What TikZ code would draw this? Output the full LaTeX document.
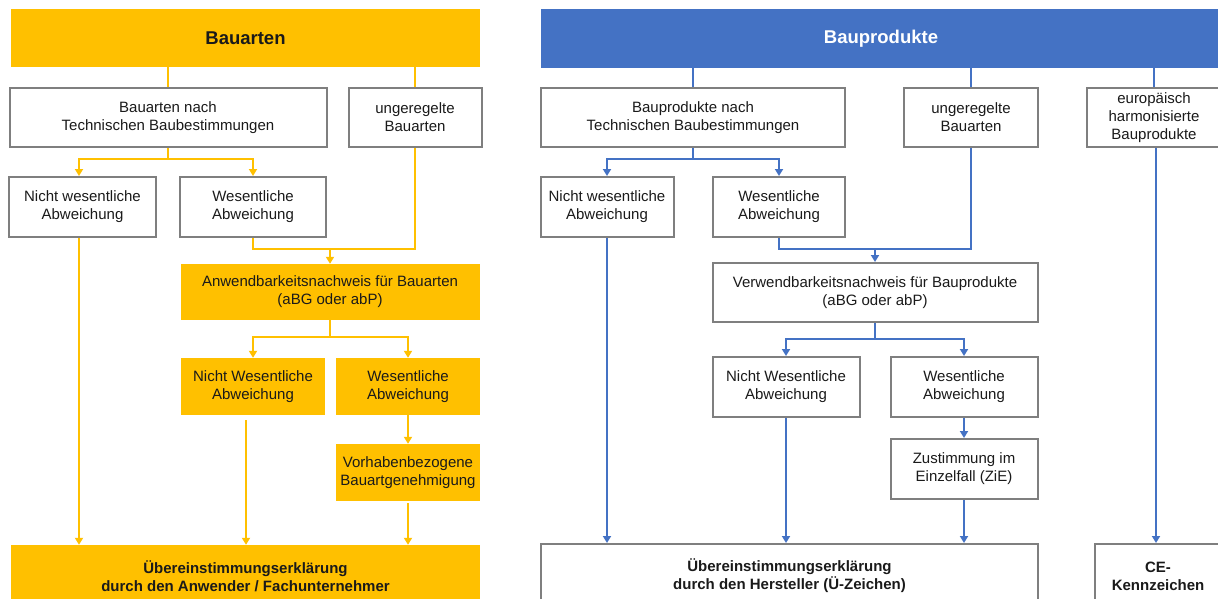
\documentclass[tikz,border=0pt]{standalone}
\usepackage{fontspec}
\setmainfont{Liberation Sans}
\usetikzlibrary{arrows.meta}
\definecolor{gold}{HTML}{FFC000}
\definecolor{bblue}{HTML}{4472C4}
\definecolor{bgray}{HTML}{7F7F7F}
\definecolor{txt}{HTML}{1A1A1A}
\begin{document}
\begin{tikzpicture}[x=1pt,y=-1pt,
  base/.style={align=center, inner sep=0pt, text=txt, font=\fontsize{15}{18}\selectfont},
  box/.style={base, draw=bgray, line width=2pt, fill=white},
  ybox/.style={base, fill=gold},
  bbox/.style={base, draw=bgray, line width=2pt, fill=white, font=\fontsize{15}{18}\selectfont\bfseries},
  yl/.style={draw=gold, line width=2pt},
  bl/.style={draw=bblue, line width=2pt},
  yarr/.style={yl, -{Triangle[width=8pt,length=7pt]}},
  barr/.style={bl, -{Triangle[width=8pt,length=7pt]}},
]
\useasboundingbox (0,0) rectangle (1218,598);
\fill[white] (0,0) rectangle (1218,598);
\clip (0,0) rectangle (1218,598);

% ---------------- left: Bauarten ----------------
\node[ybox, minimum width=469, minimum height=58, font=\fontsize{18.5}{22}\selectfont\bfseries] (hA) at (245.5,38) {Bauarten};
\node[box, minimum width=317, minimum height=59] (a1) at (168,117.5) {Bauarten nach\\Technischen Baubestimmungen};
\node[box, minimum width=133, minimum height=59] (a2) at (415,117.5) {ungeregelte\\Bauarten};
\node[box, minimum width=147, minimum height=60] (a3) at (82.5,207) {Nicht wesentliche\\Abweichung};
\node[box, minimum width=146, minimum height=60] (a4) at (253,207) {Wesentliche\\Abweichung};
\node[ybox, minimum width=299, minimum height=56] (a5) at (330,292) {Anwendbarkeitsnachweis für Bauarten\\(aBG oder abP)};
\node[ybox, minimum width=144, minimum height=57] (a6) at (253,386.5) {Nicht Wesentliche\\Abweichung};
\node[ybox, minimum width=144, minimum height=57] (a7) at (408,386.5) {Wesentliche\\Abweichung};
\node[ybox, minimum width=144, minimum height=57] (a8) at (408,472.5) {Vorhabenbezogene\\Bauartgenehmigung};
\node[ybox, minimum width=469, minimum height=62, font=\fontsize{15}{18}\selectfont\bfseries] (a9) at (245.5,576) {Übereinstimmungserklärung\\durch den Anwender / Fachunternehmer};

\coordinate (L1) at (0,159);
\coordinate (L2) at (0,249);
\coordinate (L3) at (0,337);
\coordinate (R3) at (0,339);

\draw[yl] (hA.south -| a1.north) -- (a1.north);
\draw[yl] (hA.south -| a2.north) -- (a2.north);
\draw[yl] (a1.south) -- (a1.south |- L1);
\coordinate (a3in) at ([xshift=-3.5pt]a3.north);
\coordinate (a3out) at ([xshift=-3.5pt]a3.south);
\draw[yarr] (a1.south |- L1) -| (a3in);
\draw[yarr] (a1.south |- L1) -| (a4.north);
\draw[yl] (a4.south) |- (a2.south |- L2) -- (a2.south);
\draw[yarr] (a5.north |- L2) -- (a5.north);
\draw[yl] (a5.south) -- (a5.south |- L3);
\draw[yarr] (a5.south |- L3) -| (a6.north);
\draw[yarr] (a5.south |- L3) -| (a7.north);
\draw[yarr] (a7.south) -- (a8.north);
\draw[yarr, shorten <=2pt] (a8.south) -- (a8.south |- a9.north);
\coordinate (a6out) at ([xshift=-7pt]a6.south);
\draw[yarr, shorten <=5pt] (a6out) -- (a6out |- a9.north);
\draw[yarr] (a3out) -- (a3out |- a9.north);

% ---------------- right: Bauprodukte ----------------
\node[fill=bblue, minimum width=680, minimum height=59, inner sep=0pt, text=white, font=\fontsize{18.5}{22}\selectfont\bfseries] (hB) at (881,38.5) {Bauprodukte};
\node[box, minimum width=304, minimum height=59] (b1) at (693,117.5) {Bauprodukte nach\\Technischen Baubestimmungen};
\node[box, minimum width=134, minimum height=59] (b2) at (971,117.5) {ungeregelte\\Bauarten};
\node[box, minimum width=134, minimum height=59] (b3) at (1154,117.5) {europäisch\\harmonisierte\\Bauprodukte};
\node[box, minimum width=133, minimum height=60] (b4) at (607,207) {Nicht wesentliche\\Abweichung};
\node[box, minimum width=132, minimum height=60] (b5) at (779,207) {Wesentliche\\Abweichung};
\node[box, minimum width=325, minimum height=59] (b6) at (875,292.5) {Verwendbarkeitsnachweis für Bauprodukte\\(aBG oder abP)};
\node[box, minimum width=147, minimum height=60] (b7) at (786,387) {Nicht Wesentliche\\Abweichung};
\node[box, minimum width=147, minimum height=60] (b8) at (964,387) {Wesentliche\\Abweichung};
\node[box, minimum width=147, minimum height=60] (b9) at (964,469) {Zustimmung im\\Einzelfall (ZiE)};
\node[bbox, minimum width=497, minimum height=64] (b10) at (789.5,576) {Übereinstimmungserklärung\\durch den Hersteller (Ü-Zeichen)};
\node[bbox, minimum width=126, minimum height=64] (b11) at (1158,576) {CE-\\Kennzeichen};

\draw[bl] (hB.south -| b1.north) -- (b1.north);
\draw[bl] (hB.south -| b2.north) -- (b2.north);
\draw[bl] (hB.south -| b3.north) -- (b3.north);
\draw[bl] (b1.south) -- (b1.south |- L1);
\draw[barr] (b1.south |- L1) -| (b4.north);
\draw[barr] (b1.south |- L1) -| (b5.north);
\draw[bl] (b5.south) |- (b2.south |- L2) -- (b2.south);
\draw[barr] (b6.north |- L2) -- (b6.north);
\draw[bl] (b6.south) -- (b6.south |- R3);
\draw[barr] (b6.south |- R3) -| (b7.north);
\draw[barr] (b6.south |- R3) -| (b8.north);
\draw[barr] (b8.south) -- (b9.north);
\draw[barr] (b9.south) -- (b9.south |- b10.north);
\draw[barr] (b7.south) -- (b7.south |- b10.north);
\draw[barr] (b4.south) -- (b4.south |- b10.north);
\coordinate (b3out) at ([xshift=2pt]b3.south);
\draw[barr] (b3out) -- (b3out |- b11.north);
\end{tikzpicture}
\end{document}
